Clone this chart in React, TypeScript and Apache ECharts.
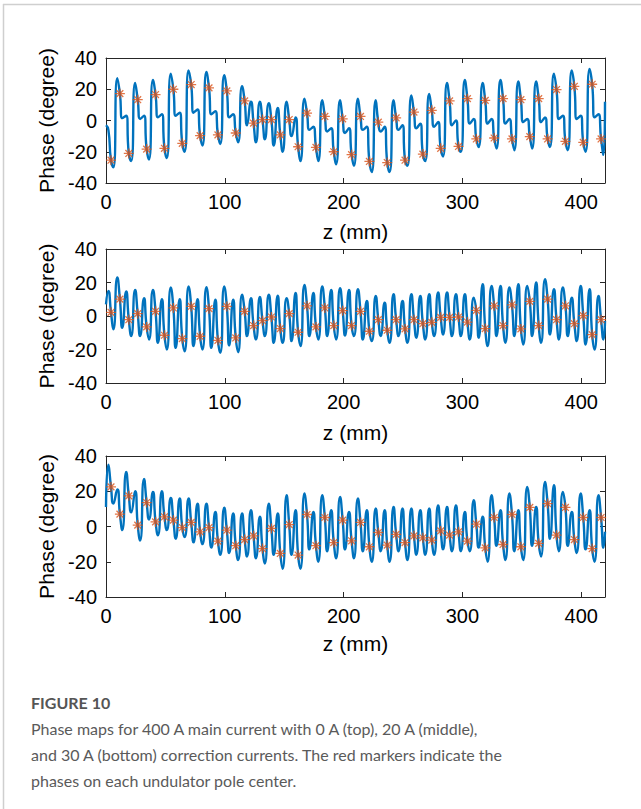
import React, { useEffect, useRef } from "react";
import * as echarts from "echarts";

// Pole centre positions (mm)
const POLE_Z = [
  4.2, 11.7, 19.2, 26.7, 34.2, 41.7, 49.2, 56.7, 64.2, 71.7, 79.2, 86.7, 94.2, 101.7,
  109.2, 116.7, 124.2, 131.7, 139.2, 146.7, 154.2, 161.7, 169.2, 176.7, 184.2, 191.7,
  199.2, 206.7, 214.2, 221.7, 229.2, 236.7, 244.2, 251.7, 259.2, 266.7, 274.2, 281.7,
  289.2, 296.7, 304.2, 311.7, 319.2, 326.7, 334.2, 341.7, 349.2, 356.7, 364.2, 371.7,
  379.2, 386.7, 394.2, 401.7, 409.2, 416.7,
];

// ---- Top panel (0 A correction) ----
const TOP_MARKERS = [
  -25.4, 17.2, -21.1, 13.3, -18.3, 16.6, -17.8, 20.0, -14.6, 23.0, -9.7, 20.9, -9.2, 18.9,
  -8.0, 12.5, -1.7, 0.6, 0.6, -9.2, 0.6, -16.8, 4.7, -17.2, 2.6, -20.0, 1.1, -21.9, 2.6,
  -26.2, -1.1, -26.9, 1.7, -25.4, 5.4, -21.5, 6.5, -17.8, 12.5, -16.6, 14.0, -11.8, 12.9,
  -11.2, 14.0, -11.8, 13.3, -10.3, 14.0, -11.8, 19.8, -13.3, 21.9, -14.0, 23.2, -11.8,
];
const TOP_MAX_BEFORE = [
  -6, 27, 3, 24, 3, 26, 4, 30, 5, 32, 7, 31, 6, 29, 4, 22, 12, 12, 11, 8, 12, 2, 14, -4,
  13, -5, 13, -5, 14, -4, 13, -4, 13, -3, 16, -2, 17, -1, 24, 0, 26, 1, 24, 1, 26, 1, 25,
  1, 25, 2, 30, 3, 32, 3, 33, 4,
];
const TOP_MIN_AFTER = [
  -30, 1.5, -26, 1, -25, 2, -24, 3, -20, 5, -16, 4, -15, 2, -14, -3, -14, -12, -16, -20,
  -10, -26, -6, -26, -7, -28, -8, -29, -6, -33, -7, -33, -6, -29, -5, -26, -4, -23, -3,
  -20, -2, -17, -2, -18, -2, -19, -1, -18, -1, -17, 1, -19, 1, -20, 2, -22,
];
const TOP_ENDS = [-3, 12];

// ---- Middle panel (20 A correction) ----
const MID_MARKERS = [
  2.2, 10.1, -2.2, 1.4, -6.5, 2.8, -11.5, 4.8, -13.5, 5.7, -12.1, 4.4, -14.5, 5.7, -13.1,
  2.8, -5.7, -2.8, -0.6, -7.5, 1.4, -9.7, 6.1, -6.5, 4.8, -5.7, 3.2, -5.7, 2.8, -9.1, -2.2,
  -8.5, -2.2, -7.7, -2.2, -4.6, -3.8, -0.8, -0.8, -0.6, -3.6, 3.4, -7.5, 6.1, -5.7, 6.7,
  -7.7, 8.7, -5.7, 10.1, -2.2, 6.1, -4.6, 0.2, -11.1, -2.2,
];
const MID_MAX_BEFORE = [
  15, 23, 14.7, 15.6, 10.7, 15.6, 10.1, 17, 10.1, 17.6, 10.1, 17.2, 9.7, 17.6, 9.7, 12.7,
  10.7, 11.3, 12.7, 12.1, 10.7, 13.7, 18.6, 13.7, 17.6, 15.6, 16.6, 15.6, 16, 9, 12, 8,
  13, 9, 13, 12, 13, 14, 14, 13, 13, 11, 19, 18, 18, 17, 19, 18, 20, 22, 16, 17, 11, 18,
  16, 12,
];
const MID_MIN_AFTER = [
  -8, -7, -12, -12, -14, -16, -20, -19, -21, -18, -20, -19, -22, -17.6, -21.6, -12, -14,
  -12, -16, -16, -15, -18, -12, -14, -12, -14, -11.7, -12, -14, -15, -12, -16, -12, -16,
  -13, -14, -12, -11, -12, -12, -14, -13, -18, -12, -16, -12, -17, -12, -16, -11, -14,
  -12, -15, -17, -20, -14,
];
const MID_ENDS = [7, -3];

// ---- Bottom panel (30 A correction) ----
const BOT_MARKERS = [
  22.5, 7.0, 17.4, 0.8, 13.6, 2.6, 5.5, 3.6, -0.6, 2.3, -3.0, -0.6, -8.3, -2.1, -10.9,
  -7.4, -5.3, -12.5, -1.1, -15.3, 1.1, -16.2, 6.8, -10.9, 5.1, -9.1, 3.6, -8.1, 2.3,
  -11.5, -3.4, -10.6, -4.5, -9.1, -5.3, -6.4, -7.7, -2.5, -4.9, -3.0, -8.3, 1.3, -12.1,
  5.1, -10.2, 6.8, -11.5, 10.8, -9.6, 13.0, -4.9, 10.8, -7.4, 5.1, -12.5, 5.1,
];
const BOT_MAX_BEFORE = [
  35, 21, 31, 20, 27, 19.6, 20, 16.2, 15.9, 15.9, 13, 13, 8.3, 10.6, 7.4, 7.4, 9.2, 5.5,
  13, 7.4, 17.7, 9.2, 18.7, 8.3, 17.7, 9.2, 16.8, 8.3, 15.9, 9.2, 10.2, 9.2, 11.1, 10.2,
  10.2, 9.2, 10.2, 12, 11.1, 12, 8.3, 14.9, 5.5, 17.7, 9.2, 18.7, 9.2, 22.5, 11.1, 25.3,
  23.4, 19.6, 8.3, 18.7, 9.2, 17.7,
];
const BOT_MIN_AFTER = [
  13, -2, 8, -8, 4, -5, -2, -7, -6, -9, -10, -12, -16, -15, -19, -17, -18, -21, -16, -24,
  -16, -24, -13, -20, -14, -18, -13, -18, -14, -20, -14, -20, -14, -19, -16, -16, -16,
  -13, -14, -14, -14, -12, -20, -11, -19, -14, -19, -11, -17, -7, -14, -11, -15, -13,
  -20, -12,
];
const BOT_ENDS = [11, -3];

const X_TICK_LABELS = [0, 100, 200, 300, 400];
const Y_TICK_LABELS = [-40, -20, 0, 20, 40];
const X_RANGE = [0, 420];

const PANELS = [
  { markers: TOP_MARKERS, maxB: TOP_MAX_BEFORE, minA: TOP_MIN_AFTER, ends: TOP_ENDS },
  { markers: MID_MARKERS, maxB: MID_MAX_BEFORE, minA: MID_MIN_AFTER, ends: MID_ENDS },
  { markers: BOT_MARKERS, maxB: BOT_MAX_BEFORE, minA: BOT_MIN_AFTER, ends: BOT_ENDS },
];

// extremum offsets (mm) around each pole centre
const PRE = 2.2;
const POST = 2.0;

const BLUE = "#0072BD";
const RED = "#D95319";
const AXIS = "#262626";
const FONT = "'Liberation Sans', Arial, Helvetica, sans-serif";
const STAR = "path://M5,0L5,10M0,5L10,5M1.6,1.6L8.4,8.4M1.6,8.4L8.4,1.6";

const GRIDS = [
  { left: 106, top: 58, width: 499, height: 125, nameGap: 38 },
  { left: 106, top: 249, width: 499, height: 134, nameGap: 39 },
  { left: 106, top: 456, width: 499, height: 141, nameGap: 36 },
];

function buildCurve(p: any) {
  const pts: number[][] = [[X_RANGE[0], p.ends[0]]];
  POLE_Z.forEach((z, i) => {
    pts.push([z - PRE, p.maxB[i]]);
    pts.push([z, p.markers[i]]);
    pts.push([z + POST, p.minA[i]]);
  });
  pts.push([X_RANGE[1], p.ends[1]]);
  return pts;
}

export default function App() {
  const ref = useRef<HTMLDivElement>(null);
  useEffect(() => {
    const chart = echarts.init(ref.current!, null, { renderer: "svg" });
    const xAxis: any[] = [];
    const yAxis: any[] = [];
    const series: any[] = [];
    const tickStyle = { inside: true, length: 5, lineStyle: { color: AXIS, width: 1 } };
    const lineStyle = { show: true, onZero: false, lineStyle: { color: AXIS, width: 1 } };
    GRIDS.forEach((g, i) => {
      xAxis.push({
        gridIndex: i,
        type: "value",
        min: X_RANGE[0],
        max: X_RANGE[1],
        interval: 100,
        position: "bottom",
        axisLine: lineStyle,
        axisTick: tickStyle,
        splitLine: { show: false },
        axisLabel: {
          color: "#000",
          fontSize: 20,
          fontFamily: FONT,
          margin: 9,
          formatter: (v: number) => (X_TICK_LABELS.includes(v) ? String(v) : ""),
        },
        name: "z (mm)",
        nameLocation: "middle",
        nameGap: g.nameGap,
        nameTextStyle: { color: "#000", fontSize: 21, fontFamily: FONT },
      });
      xAxis.push({
        gridIndex: i,
        type: "value",
        min: X_RANGE[0],
        max: X_RANGE[1],
        interval: 100,
        position: "top",
        axisLine: lineStyle,
        axisTick: tickStyle,
        splitLine: { show: false },
        axisLabel: { show: false },
      });
      yAxis.push({
        gridIndex: i,
        type: "value",
        min: -40,
        max: 40,
        interval: 20,
        position: "left",
        axisLine: lineStyle,
        axisTick: tickStyle,
        splitLine: { show: false },
        axisLabel: {
          color: "#000",
          fontSize: 20,
          fontFamily: FONT,
          margin: 9,
          formatter: (v: number) => (Y_TICK_LABELS.includes(v) ? String(v) : ""),
        },
        name: "Phase (degree)",
        nameLocation: "middle",
        nameRotate: 90,
        nameGap: 39,
        nameTextStyle: { color: "#000", fontSize: 21, fontFamily: FONT },
      });
      yAxis.push({
        gridIndex: i,
        type: "value",
        min: -40,
        max: 40,
        interval: 20,
        position: "right",
        axisLine: lineStyle,
        axisTick: tickStyle,
        splitLine: { show: false },
        axisLabel: { show: false },
      });
      const p = PANELS[i];
      series.push({
        type: "line",
        xAxisIndex: i * 2,
        yAxisIndex: i * 2,
        data: buildCurve(p),
        smooth: 0.6,
        showSymbol: false,
        symbol: "none",
        clip: true,
        lineStyle: { color: BLUE, width: 2.4 },
        z: 2,
      });
      series.push({
        type: "scatter",
        xAxisIndex: i * 2,
        yAxisIndex: i * 2,
        data: POLE_Z.map((z, k) => [z, p.markers[k]]),
        symbol: STAR,
        symbolSize: 10,
        itemStyle: { color: "transparent", borderColor: RED, borderWidth: 1.3 },
        z: 3,
      });
    });

    const captionStyle = { fill: "#5a5a5a", fontSize: 16, fontFamily: "Lato, 'Open Sans', sans-serif" };
    const option: any = {
      animation: false,
      backgroundColor: "#fff",
      grid: GRIDS.map((g) => ({ left: g.left, top: g.top, width: g.width, height: g.height })),
      xAxis,
      yAxis,
      series,
      graphic: [
        { type: "line", shape: { x1: 3.5, y1: 4, x2: 3.5, y2: 809 }, style: { stroke: "#cfcfcf", lineWidth: 1.5 } },
        { type: "line", shape: { x1: 3, y1: 4.5, x2: 641, y2: 4.5 }, style: { stroke: "#cfcfcf", lineWidth: 1.5 } },
        {
          type: "text",
          left: 31,
          top: 694,
          style: { ...captionStyle, text: "FIGURE 10", fontWeight: "bold", fill: "#555" },
        },
        {
          type: "text",
          left: 31,
          top: 720,
          style: { ...captionStyle, text: "Phase maps for 400 A main current with 0 A (top), 20 A (middle)," },
        },
        {
          type: "text",
          left: 31,
          top: 746,
          style: { ...captionStyle, text: "and 30 A (bottom) correction currents. The red markers indicate the" },
        },
        {
          type: "text",
          left: 31,
          top: 772,
          style: { ...captionStyle, text: "phases on each undulator pole center." },
        },
      ],
    };
    chart.setOption(option);
    return () => chart.dispose();
  }, []);
  return (
    <div
      ref={ref}
      style={{ position: "absolute", left: 0, top: 0, width: 641, height: 809, background: "#fff" }}
    />
  );
}
